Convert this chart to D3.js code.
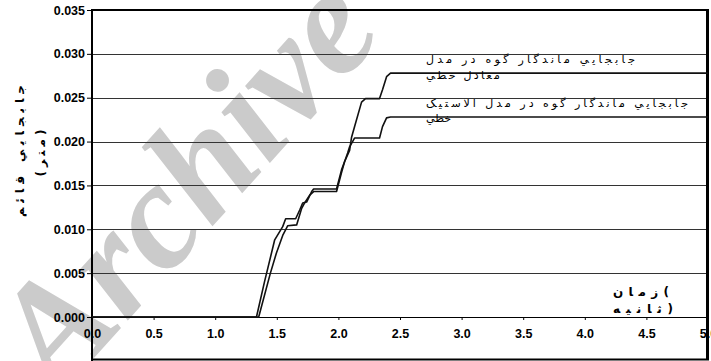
<!DOCTYPE html>
<html><head><meta charset="utf-8">
<script src="https://cdn.jsdelivr.net/npm/d3@7"></script>
<style>html,body{margin:0;padding:0;background:#fff;}svg{display:block;}</style>
</head><body>
<svg id="c" width="711" height="361"></svg>
<script>
// Upper curve: nonlinear equivalent model
const timeA  = [0, 1.335, 1.40, 1.483, 1.548, 1.572, 1.653, 1.686, 1.710, 1.742, 1.783, 1.799, 1.985, 2.026, 2.050, 2.091, 2.107, 2.131, 2.188, 2.220, 2.334, 2.358, 2.391, 2.423, 5.0];
const valueA = [0, 0, 0.0040, 0.0088, 0.0103, 0.0112, 0.0112, 0.0122, 0.0130, 0.0131, 0.0143, 0.0146, 0.0146, 0.0168, 0.0177, 0.0190, 0.0205, 0.0217, 0.0245, 0.0249, 0.0249, 0.0259, 0.0274, 0.0278, 0.0278];
// Lower curve: linear elastic model
const timeB  = [0, 1.353, 1.448, 1.497, 1.548, 1.588, 1.661, 1.702, 1.726, 1.767, 1.799, 1.985, 2.026, 2.050, 2.075, 2.091, 2.131, 2.334, 2.358, 2.391, 2.423, 5.0];
const valueB = [0, 0, 0.0050, 0.0073, 0.0093, 0.0104, 0.0105, 0.0124, 0.0130, 0.0139, 0.0143, 0.0143, 0.0165, 0.0177, 0.0187, 0.0194, 0.0204, 0.0204, 0.0217, 0.0227, 0.0228, 0.0228];
const xTicks = [0, 0.5, 1.0, 1.5, 2.0, 2.5, 3.0, 3.5, 4.0, 4.5, 5.0];
const yTicks = [0, 0.005, 0.010, 0.015, 0.020, 0.025, 0.030, 0.035];
const labelA = ["جابجايي ماندگار گوه در مدل", "معادل خطي"];
const labelB = ["جابجايي ماندگار گوه در مدل الاستيک", "خطي"];
const xTitle = ["زمان(", "ثانيه)"];
const yTitle = ["جابجايي قائم", "(متر)"];

const svg = d3.select("#c");
const x = d3.scaleLinear().domain([0, 5]).range([92, 708]);
const y = d3.scaleLinear().domain([0, 0.035]).range([317, 10]);

// watermark
svg.append("text").attr("transform", "translate(58,398) rotate(-48)")
  .attr("font-family", "Liberation Serif").attr("font-weight", "bold").attr("font-style", "italic")
  .attr("font-size", 152).attr("fill", "#cbcbcb").text("Archive");

// gridlines
svg.append("g").selectAll("line").data(yTicks.filter(d => d > 0 && d < 0.035)).join("line")
  .attr("x1", 92).attr("x2", 707).attr("y1", d => Math.round(y(d)) + 0.5).attr("y2", d => Math.round(y(d)) + 0.5)
  .attr("stroke", "#333").attr("stroke-width", 1);

// frame
svg.append("line").attr("x1", 92).attr("x2", 709).attr("y1", 10).attr("y2", 10).attr("stroke", "#000").attr("stroke-width", 2);
svg.append("line").attr("x1", 707.5).attr("x2", 707.5).attr("y1", 9).attr("y2", 360).attr("stroke", "#000").attr("stroke-width", 3);
svg.append("line").attr("x1", 92).attr("x2", 709).attr("y1", 359.5).attr("y2", 359.5).attr("stroke", "#000").attr("stroke-width", 2);

// y axis
const yAxis = svg.append("g").attr("transform", "translate(92,0)")
  .call(d3.axisLeft(y).tickValues(yTicks).tickFormat(d3.format(".3f")).tickSize(5).tickPadding(2));
yAxis.select(".domain").remove();
yAxis.selectAll("line").attr("stroke", "#000");
yAxis.selectAll("text").attr("font-family", "Liberation Sans").attr("font-weight", "bold").attr("font-size", 12.5).attr("fill", "#000");
svg.append("line").attr("x1", 92).attr("x2", 92).attr("y1", 9).attr("y2", 361).attr("stroke", "#000").attr("stroke-width", 2);

// x axis at zero
const xAxis = svg.append("g").attr("transform", "translate(0," + Math.round(y(0)) + ")")
  .call(d3.axisBottom(x).tickValues(xTicks).tickFormat(d3.format(".1f")).tickSize(3).tickPadding(9));
xAxis.select(".domain").attr("d", "M92,0.5H707").attr("stroke", "#000");
xAxis.selectAll("line").attr("stroke", "#000");
xAxis.selectAll("text").attr("font-family", "Liberation Sans").attr("font-weight", "bold").attr("font-size", 12.5).attr("fill", "#000");

// curves
const line = d3.line().x(d => x(d[0])).y(d => y(d[1]));
const seriesA = timeA.map((t, i) => [t, valueA[i]]);
const seriesB = timeB.map((t, i) => [t, valueB[i]]);
[seriesA, seriesB].forEach(s => {
  svg.append("path").datum(s).attr("d", line).attr("fill", "none")
    .attr("stroke", "#111").attr("stroke-width", 1.6).attr("stroke-linejoin", "round");
});

// annotations
function label(lines, x0, ys, lens, size, weight) {
  lines.forEach((t, i) => {
    const el = svg.append("text").attr("x", x0).attr("y", ys[i])
      .attr("font-family", "DejaVu Sans").attr("font-size", size).attr("font-weight", weight || "normal")
      .attr("fill", "#000").text(t);
    if (lens[i]) el.attr("textLength", lens[i]).attr("lengthAdjust", "spacing");
  });
}
label(labelA, 426, [63, 79], [209, 74], 11);
label(labelB, 426, [107, 122], [262, 0], 11);
label(xTitle, 613, [296, 313], [56, 60], 12, "bold");

// y title (rotated)
svg.append("text").attr("transform", "translate(24,151) rotate(-90)").attr("text-anchor", "middle")
  .attr("font-family", "DejaVu Sans").attr("font-weight", "bold").attr("font-size", 12)
  .attr("textLength", 132).attr("lengthAdjust", "spacing").text(yTitle[0]);
svg.append("text").attr("transform", "translate(45,153) rotate(-90)").attr("text-anchor", "middle")
  .attr("font-family", "DejaVu Sans").attr("font-weight", "bold").attr("font-size", 12)
  .attr("textLength", 47).attr("lengthAdjust", "spacing").text(yTitle[1]);
</script>
</body></html>
